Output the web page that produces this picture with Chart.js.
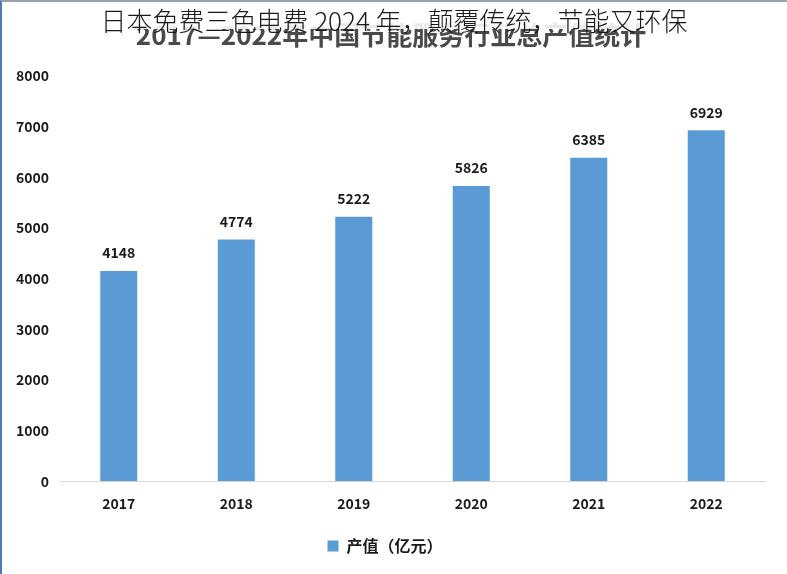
<!DOCTYPE html>
<html>
<head>
<meta charset="utf-8">
<script src="https://cdn.jsdelivr.net/npm/chart.js@4.4.0/dist/chart.umd.min.js"></script>
<style>
  html, body { margin: 0; padding: 0; background: #fff; overflow: hidden; }
  #wrap { position: relative; width: 787px; height: 574px; box-sizing: border-box; border-top: 2px solid #9aa3ad; border-left: 2px solid #4f7bb0; }
  #chart { display: block; }
</style>
</head>
<body>
<div id="wrap"><canvas id="chart" width="785" height="572"></canvas></div>
<script>
// data
const years = ['2017', '2018', '2019', '2020', '2021', '2022'];
const outputValues = [4148, 4774, 5222, 5826, 6385, 6929];
const seriesName = '产值（亿元）';
const titleBack = '2017—2022年中国节能服务行业总产值统计';
const titleFront = '日本免费三色电费 2024 年，颠覆传统，节能又环保';

const FONT = '"Noto Sans CJK SC", "Noto Sans", sans-serif';

// title drawn by hand: bold grey title half hidden under the thin headline
const titlePlugin = {
    id: 'titles',
    afterDraw(chart) {
        const ctx = chart.ctx;
        const cx = 392;
        ctx.save();
        ctx.textAlign = 'center';
        ctx.textBaseline = 'alphabetic';
        ctx.font = 'bold 26px ' + FONT;
        ctx.fillStyle = '#4a4a4a';
        ctx.fillText(titleBack, cx - 3, 43);
        // white band over the top half
        ctx.fillStyle = 'rgba(255,255,255,0.88)';
        ctx.fillRect(110, 0, 590, 27);
        ctx.font = '300 26px ' + FONT;
        ctx.fillStyle = '#1a1a1a';
        ctx.fillText(titleFront, cx, 29);
        ctx.restore();
    }
};

// value labels on top of bars
const valueLabels = {
    id: 'valueLabels',
    afterDatasetsDraw(chart) {
        const ctx = chart.ctx;
        const meta = chart.getDatasetMeta(0);
        ctx.save();
        ctx.font = 'bold 14px ' + FONT;
        ctx.fillStyle = '#1a1a1a';
        ctx.textAlign = 'center';
        ctx.textBaseline = 'bottom';
        meta.data.forEach((bar, i) => {
            ctx.fillText(outputValues[i], bar.x, bar.y - 11);
        });
        ctx.restore();
    }
};

new Chart(document.getElementById('chart'), {
    type: 'bar',
    data: {
        labels: years,
        datasets: [{
            label: seriesName,
            data: outputValues,
            backgroundColor: '#5b9bd5',
            borderWidth: 0,
            barPercentage: 0.63,
            categoryPercentage: 0.5
        }]
    },
    options: {
        responsive: false,
        animation: false,
        devicePixelRatio: 1,
        layout: { padding: { top: 74, right: 22, left: 3, bottom: 10 } },
        plugins: {
            title: { display: false },
            tooltip: { enabled: false },
            legend: {
                position: 'bottom',
                labels: {
                    boxWidth: 11,
                    boxHeight: 11,
                    color: '#1a1a1a',
                    padding: 12,
                    font: { family: FONT, size: 16, weight: 'bold' }
                }
            }
        },
        scales: {
            x: {
                grid: { display: false, drawTicks: false },
                border: { color: '#d9d9d9', width: 1 },
                ticks: { color: '#1a1a1a', padding: 14, maxRotation: 0, autoSkip: false, font: { family: FONT, size: 14, weight: 'bold' } }
            },
            y: {
                min: 0,
                max: 8000,
                grid: { display: false, drawTicks: false },
                border: { display: false },
                ticks: {
                    stepSize: 1000,
                    color: '#1a1a1a',
                    padding: 11,
                    callback: (v) => String(v),
                    font: { family: FONT, size: 14, weight: 'bold' }
                }
            }
        }
    },
    plugins: [titlePlugin, valueLabels]
});
</script>
</body>
</html>
